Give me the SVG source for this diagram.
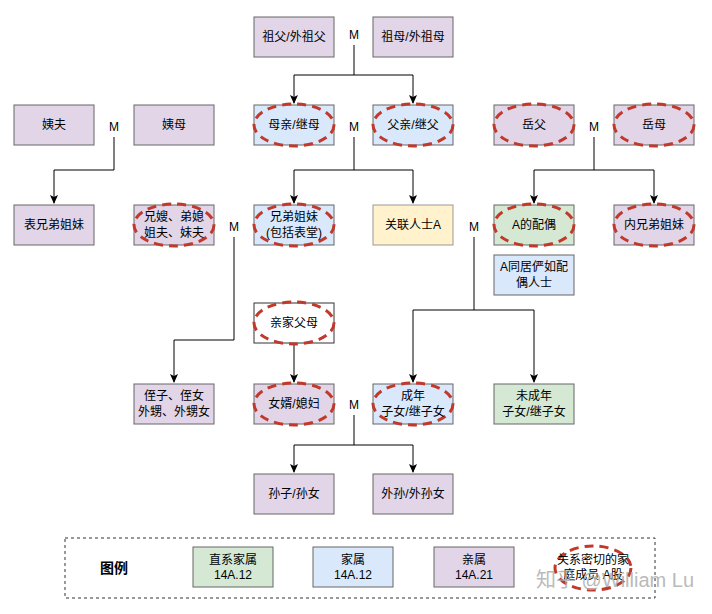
<svg xmlns="http://www.w3.org/2000/svg" width="712" height="614" viewBox="0 0 712 614">
<defs>
<style>
text{font-family:"Liberation Sans","Noto Sans CJK SC",sans-serif;font-size:12px;fill:#000;text-anchor:middle;dominant-baseline:central}
.p{fill:#e1d5e7;stroke:#666}.b{fill:#dae8fc;stroke:#666}.g{fill:#d5e8d4;stroke:#666}.y{fill:#fff2cc;stroke:#999}.w{fill:#fff;stroke:#333}
.e{fill:none;stroke:#c0392b;stroke-width:3;stroke-dasharray:9 6}
.c{fill:none;stroke:#000;stroke-width:1}
</style>
<marker id="a" markerWidth="10" markerHeight="10" refX="8" refY="5" orient="auto" markerUnits="userSpaceOnUse"><path d="M0,1 L9,5 L0,9 L2,5 Z" fill="#000"/></marker>
</defs>
<rect width="712" height="614" fill="#fff"/>
<g id="connectors">
<path class="c" d="M354,45 V75 H294 V103" marker-end="url(#a)"/>
<path class="c" d="M354,75 H413 V103" marker-end="url(#a)"/>
<path class="c" d="M114,137 V170 H54 V203" marker-end="url(#a)"/>
<path class="c" d="M354,137 V170 H294 V203" marker-end="url(#a)"/>
<path class="c" d="M354,170 H413 V203" marker-end="url(#a)"/>
<path class="c" d="M594,137 V170 H534 V203" marker-end="url(#a)"/>
<path class="c" d="M594,170 H654 V203" marker-end="url(#a)"/>
<path class="c" d="M234,237 V340 H174 V382" marker-end="url(#a)"/>
<path class="c" d="M294,343 V382" marker-end="url(#a)"/>
<path class="c" d="M474,237 V310 H413 V382" marker-end="url(#a)"/>
<path class="c" d="M474,310 H534 V382" marker-end="url(#a)"/>
<path class="c" d="M354,415 V445 H294 V472" marker-end="url(#a)"/>
<path class="c" d="M354,445 H413 V472" marker-end="url(#a)"/>
</g>
<g id="labels"><text x="354" y="35">M</text><text x="114" y="127">M</text><text x="354" y="127">M</text><text x="594" y="127">M</text><text x="234" y="227">M</text><text x="474" y="227">M</text><text x="354" y="405">M</text></g>
<g id="n1"><rect class="p" x="254" y="17" width="80" height="40"/><text x="294" y="37">祖父/外祖父</text></g>
<g id="n2"><rect class="p" x="373" y="17" width="80" height="40"/><text x="413" y="37">祖母/外祖母</text></g>
<g id="n3"><rect class="p" x="14" y="105" width="80" height="40"/><text x="54" y="125">姨夫</text></g>
<g id="n4"><rect class="p" x="134" y="105" width="80" height="40"/><text x="174" y="125">姨母</text></g>
<g id="n5"><rect class="b" x="254" y="105" width="80" height="40"/><ellipse class="e" cx="294" cy="125" rx="40" ry="21"/><text x="294" y="125">母亲/继母</text></g>
<g id="n6"><rect class="b" x="373" y="105" width="80" height="40"/><ellipse class="e" cx="413" cy="125" rx="40" ry="21"/><text x="413" y="125">父亲/继父</text></g>
<g id="n7"><rect class="p" x="494" y="105" width="80" height="40"/><ellipse class="e" cx="534" cy="125" rx="40" ry="21"/><text x="534" y="125">岳父</text></g>
<g id="n8"><rect class="p" x="614" y="105" width="80" height="40"/><ellipse class="e" cx="654" cy="125" rx="40" ry="21"/><text x="654" y="125">岳母</text></g>
<g id="n9"><rect class="p" x="14" y="205" width="80" height="40"/><text x="54" y="225">表兄弟姐妹</text></g>
<g id="n10"><rect class="p" x="134" y="205" width="80" height="40"/><ellipse class="e" cx="174" cy="225" rx="40" ry="21"/><text x="174" y="217">兄嫂、弟媳</text><text x="174" y="233">姐夫、妹夫</text></g>
<g id="n11"><rect class="b" x="254" y="205" width="80" height="40"/><ellipse class="e" cx="294" cy="225" rx="40" ry="21"/><text x="294" y="217">兄弟姐妹</text><text x="294" y="233">(包括表堂)</text></g>
<g id="n12"><rect class="y" x="373" y="205" width="80" height="40"/><text x="413" y="225">关联人士A</text></g>
<g id="n13"><rect class="g" x="494" y="205" width="80" height="40"/><ellipse class="e" cx="534" cy="225" rx="40" ry="21"/><text x="534" y="225">A的配偶</text></g>
<g id="n14"><rect class="p" x="614" y="205" width="80" height="40"/><ellipse class="e" cx="654" cy="225" rx="40" ry="21"/><text x="654" y="225">内兄弟姐妹</text></g>
<g id="n15"><rect class="b" x="494" y="255" width="80" height="40"/><text x="534" y="267">A同居俨如配</text><text x="534" y="283">偶人士</text></g>
<g id="n16"><rect class="w" x="254" y="303" width="80" height="40"/><ellipse class="e" cx="294" cy="323" rx="40" ry="21"/><text x="294" y="323">亲家父母</text></g>
<g id="n17"><rect class="p" x="134" y="384" width="80" height="40"/><text x="174" y="396">侄子、侄女</text><text x="174" y="412">外甥、外甥女</text></g>
<g id="n18"><rect class="p" x="254" y="384" width="80" height="40"/><ellipse class="e" cx="294" cy="404" rx="40" ry="21"/><text x="294" y="404">女婿/媳妇</text></g>
<g id="n19"><rect class="b" x="373" y="384" width="80" height="40"/><ellipse class="e" cx="413" cy="404" rx="40" ry="21"/><text x="413" y="396">成年</text><text x="413" y="412">子女/继子女</text></g>
<g id="n20"><rect class="g" x="494" y="384" width="80" height="40"/><text x="534" y="396">未成年</text><text x="534" y="412">子女/继子女</text></g>
<g id="n21"><rect class="p" x="254" y="474" width="80" height="40"/><text x="294" y="494">孙子/孙女</text></g>
<g id="n22"><rect class="p" x="373" y="474" width="80" height="40"/><text x="413" y="494">外孙/外孙女</text></g>
<g id="legend">
<rect x="65" y="538" width="590" height="60" fill="none" stroke="#333" stroke-dasharray="3 3"/>
<text x="114" y="568" style="font-size:14px;font-weight:bold">图例</text>
<rect class="g" x="193" y="547" width="80" height="40"/><text x="233" y="560">直系家属</text><text x="233" y="575">14A.12</text>
<rect class="b" x="313" y="547" width="80" height="40"/><text x="353" y="560">家属</text><text x="353" y="575">14A.12</text>
<rect class="p" x="434" y="547" width="80" height="40"/><text x="474" y="560">亲属</text><text x="474" y="575">14A.21</text>
<ellipse class="e" cx="593" cy="568" rx="38" ry="22"/><text x="593" y="560">关系密切的家</text><text x="593" y="575">庭成员 A股</text>
</g>
<text x="615" y="580" style="font-size:20px;fill:#aaa;opacity:0.8">知乎 @William Lu</text>
</svg>
